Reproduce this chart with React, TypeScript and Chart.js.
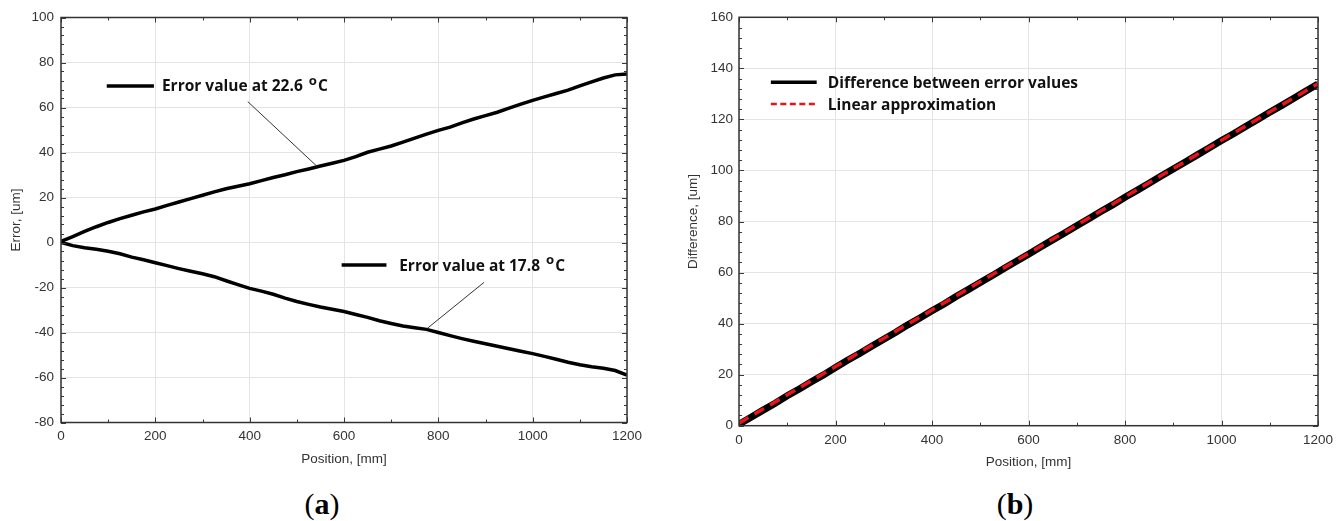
import React, { useEffect, useRef } from "react";
import { Chart, registerables } from "chart.js";

Chart.register(...registerables);

// ---------------- data ----------------
const positions = [
  0, 25, 50, 75, 100, 125, 150, 175, 200, 225, 250, 275, 300, 325, 350, 375, 400,
  425, 450, 475, 500, 525, 550, 575, 600, 625, 650, 675, 700, 725, 750, 775, 800,
  825, 850, 875, 900, 925, 950, 975, 1000, 1025, 1050, 1075, 1100, 1125, 1150, 1175, 1200,
];

const error226 = [
  0.5, 2.6, 4.9, 7.0, 8.9, 10.6, 12.1, 13.6, 14.9, 16.5, 18.0, 19.5, 21.0, 22.5, 23.9, 25.0, 26.1,
  27.5, 28.9, 30.1, 31.5, 32.7, 34.0, 35.2, 36.5, 38.2, 40.1, 41.5, 42.9, 44.6, 46.4, 48.2, 49.8,
  51.3, 53.2, 54.9, 56.4, 57.9, 59.7, 61.5, 63.2, 64.7, 66.2, 67.7, 69.6, 71.4, 73.1, 74.5, 74.9,
];

const error178 = [
  0.0, -1.4, -2.3, -3.0, -3.9, -5.0, -6.5, -7.7, -9.0, -10.3, -11.6, -12.8, -13.9, -15.2, -17.0, -18.7, -20.4,
  -21.6, -23.0, -24.7, -26.2, -27.5, -28.7, -29.7, -30.7, -32.0, -33.3, -34.8, -36.0, -37.1, -37.9, -38.6, -40.0,
  -41.4, -42.7, -43.9, -45.0, -46.1, -47.2, -48.3, -49.4, -50.6, -51.9, -53.2, -54.3, -55.2, -55.9, -56.9, -58.9,
];

const difference = [
  0.6, 3.3, 6.1, 8.8, 11.7, 14.4, 17.2, 19.9, 22.8, 25.6, 28.3, 31.1, 33.9, 36.6, 39.5, 42.2, 45.0,
  47.7, 50.6, 53.3, 56.1, 58.8, 61.7, 64.4, 67.2, 70.0, 72.8, 75.5, 78.3, 81.1, 83.9, 86.6, 89.5,
  92.2, 95.0, 97.8, 100.6, 103.3, 106.1, 108.9, 111.7, 114.4, 117.2, 120.0, 122.8, 125.5, 128.3, 131.1, 133.9,
];

const approxPositions = [0, 1200];
const approxValues = [1.0, 134.0];

const xTickValues = [0, 200, 400, 600, 800, 1000, 1200];
const leftYTickValues = [-80, -60, -40, -20, 0, 20, 40, 60, 80, 100];
const rightYTickValues = [0, 20, 40, 60, 80, 100, 120, 140, 160];

const label226 = "Error value at 22.6";
const label178 = "Error value at 17.8";
const labelDiff = "Difference between error values";
const labelApprox = "Linear approximation";
const xTitle = "Position, [mm]";
const leftYTitle = "Error, [um]";
const rightYTitle = "Difference, [um]";

// ---------------- helpers ----------------
const AX_FONT = '"Liberation Sans", Arial, sans-serif';
const NOTE_FONT = '"Open Sans", sans-serif';
const TXT = "#333333";
const GRID = "#e4e4e4";

const pts = (xs: number[], ys: number[]) => xs.map((x, i) => ({ x, y: ys[i] }));

function drawFrame(chart: any, yMinor: number) {
  const { ctx, chartArea: a, scales } = chart;
  const xs = scales.x;
  const ys = scales.y;
  ctx.save();
  ctx.strokeStyle = "#3a3a3a";
  ctx.lineWidth = 1;
  ctx.beginPath();
  for (let v = ys.min; v <= ys.max + 1e-6; v += yMinor) {
    const py = Math.round(ys.getPixelForValue(v)) + 0.5;
    const major = Math.abs(Math.round(v) % 20) === 0;
    const len = major ? 5 : 3;
    ctx.moveTo(a.left, py);
    ctx.lineTo(a.left + len, py);
    ctx.moveTo(a.right, py);
    ctx.lineTo(a.right - len, py);
  }
  for (let v = xs.min; v <= xs.max + 1e-6; v += 100) {
    const px = Math.round(xs.getPixelForValue(v)) + 0.5;
    const len = Math.round(v) % 200 === 0 ? 5 : 3;
    ctx.moveTo(px, a.top);
    ctx.lineTo(px, a.top + len);
    ctx.moveTo(px, a.bottom);
    ctx.lineTo(px, a.bottom - len);
  }
  ctx.stroke();
  ctx.lineWidth = 1.5;
  ctx.strokeStyle = "#333333";
  ctx.strokeRect(a.left, a.top, a.right - a.left, a.bottom - a.top);
  ctx.restore();
}

function drawDegreeText(ctx: any, text: string, x: number, yMid: number, size: number) {
  ctx.save();
  ctx.fillStyle = "#111111";
  ctx.textAlign = "left";
  ctx.textBaseline = "alphabetic";
  const base = yMid + size * 0.36;
  ctx.font = `bold ${size}px ${NOTE_FONT}`;
  const main = text + " ";
  ctx.fillText(main, x, base);
  let w = ctx.measureText(main).width + 2;
  ctx.font = `bold ${size * 0.85}px ${NOTE_FONT}`;
  ctx.fillText("o", x + w, base - size * 0.43);
  w += ctx.measureText("o").width + 1;
  ctx.font = `bold ${size}px ${NOTE_FONT}`;
  ctx.fillText("C", x + w, base);
  ctx.restore();
}

function drawPlainText(ctx: any, text: string, x: number, yMid: number, size: number) {
  ctx.save();
  ctx.fillStyle = "#111111";
  ctx.textAlign = "left";
  ctx.textBaseline = "alphabetic";
  ctx.font = `bold ${size}px ${NOTE_FONT}`;
  ctx.fillText(text, x, yMid + size * 0.36);
  ctx.restore();
}

function line(ctx: any, x1: number, y1: number, x2: number, y2: number, color: string, width: number, dash: number[] = []) {
  ctx.save();
  ctx.strokeStyle = color;
  ctx.lineWidth = width;
  ctx.setLineDash(dash);
  ctx.beginPath();
  ctx.moveTo(x1, y1);
  ctx.lineTo(x2, y2);
  ctx.stroke();
  ctx.restore();
}

const leftPlugin = {
  id: "leftDecor",
  afterDatasetsDraw(chart: any) {
    const { ctx, scales } = chart;
    const X = (v: number) => scales.x.getPixelForValue(v);
    const Y = (v: number) => scales.y.getPixelForValue(v);
    drawFrame(chart, 4);
    // annotation 22.6
    line(ctx, X(97), Y(69.6), X(197), Y(69.6), "#000", 3.5);
    drawDegreeText(ctx, label226, X(214), Y(69.6), 15.5);
    line(ctx, X(396), Y(62.6), X(542), Y(34), "#333", 1);
    // annotation 17.8
    line(ctx, X(595), Y(-10), X(690), Y(-10), "#000", 3.5);
    drawDegreeText(ctx, label178, X(717), Y(-10), 15.5);
    line(ctx, X(897), Y(-17.7), X(777), Y(-38.1), "#333", 1);
  },
};

const rightPlugin = {
  id: "rightDecor",
  afterDatasetsDraw(chart: any) {
    const { ctx, scales } = chart;
    const X = (v: number) => scales.x.getPixelForValue(v);
    const Y = (v: number) => scales.y.getPixelForValue(v);
    drawFrame(chart, 4);
    line(ctx, X(66), Y(134.6), X(161), Y(134.6), "#000", 3.5);
    drawPlainText(ctx, labelDiff, X(184), Y(134.6), 15.5);
    line(ctx, X(66), Y(126), X(161), Y(126), "#e8141b", 2.5, [6, 3.5]);
    drawPlainText(ctx, labelApprox, X(184), Y(126), 15.5);
  },
};

function makeScales(o: {
  yMin: number;
  yMax: number;
  yTicks: number[];
  yTitle: string;
  yWidth: number;
  yTitlePad: number;
  yTickPad: number;
}) {
  const tickFont = { family: AX_FONT, size: 13.5 };
  return {
    x: {
      type: "linear",
      min: 0,
      max: 1200,
      afterBuildTicks: (s: any) => {
        s.ticks = xTickValues.map((v) => ({ value: v }));
      },
      afterFit: (s: any) => {
        s.height = 48;
      },
      grid: { color: GRID, lineWidth: 1, drawTicks: false },
      border: { display: false },
      ticks: { padding: 6, color: TXT, font: tickFont, maxRotation: 0, callback: (v: any) => String(v) },
      title: {
        display: true,
        text: xTitle,
        color: TXT,
        font: { family: AX_FONT, size: 13.5 },
        padding: { top: 0, bottom: 3 },
      },
    },
    y: {
      type: "linear",
      min: o.yMin,
      max: o.yMax,
      afterBuildTicks: (s: any) => {
        s.ticks = o.yTicks.map((v) => ({ value: v }));
      },
      afterFit: (s: any) => {
        s.width = o.yWidth;
      },
      grid: { color: GRID, lineWidth: 1, drawTicks: false },
      border: { display: false },
      ticks: { padding: o.yTickPad, color: TXT, font: tickFont, callback: (v: any) => String(v) },
      title: {
        display: true,
        text: o.yTitle,
        color: TXT,
        font: { family: AX_FONT, size: 13.5 },
        padding: { top: o.yTitlePad, bottom: 0 },
      },
    },
  };
}

const leftConfig: any = {
  type: "line",
  data: {
    datasets: [
      {
        label: label226,
        data: pts(positions, error226),
        borderColor: "#000000",
        borderWidth: 3.5,
        pointRadius: 0,
        tension: 0,
      },
      {
        label: label178,
        data: pts(positions, error178),
        borderColor: "#000000",
        borderWidth: 3.5,
        pointRadius: 0,
        tension: 0,
      },
    ],
  },
  options: {
    responsive: false,
    animation: false,
    layout: { padding: { left: 0, right: 45, top: 17.5, bottom: 9.5 } },
    plugins: { legend: { display: false }, tooltip: { enabled: false } },
    scales: makeScales({
      yMin: -80,
      yMax: 100,
      yTicks: leftYTickValues,
      yTitle: leftYTitle,
      yWidth: 61,
      yTitlePad: 8,
      yTickPad: 7,
    }),
  },
  plugins: [leftPlugin],
};

const rightConfig: any = {
  type: "line",
  data: {
    datasets: [
      {
        label: labelApprox,
        data: pts(approxPositions, approxValues),
        borderColor: "#e8141b",
        borderWidth: 3.5,
        borderDash: [11, 7],
        pointRadius: 0,
        tension: 0,
        order: 1,
      },
      {
        label: labelDiff,
        data: pts(positions, difference),
        borderColor: "#000000",
        borderWidth: 7,
        pointRadius: 0,
        tension: 0,
        order: 2,
      },
    ],
  },
  options: {
    responsive: false,
    animation: false,
    layout: { padding: { left: 0, right: 26, top: 17.3, bottom: 6.3 } },
    plugins: { legend: { display: false }, tooltip: { enabled: false } },
    scales: makeScales({
      yMin: 0,
      yMax: 160,
      yTicks: rightYTickValues,
      yTitle: rightYTitle,
      yWidth: 67,
      yTitlePad: 13,
      yTickPad: 6,
    }),
  },
  plugins: [rightPlugin],
};

function ChartBox({ config, left }: { config: any; left: number }) {
  const ref = useRef<HTMLCanvasElement | null>(null);
  useEffect(() => {
    if (!ref.current) return;
    const chart = new Chart(ref.current, config);
    return () => chart.destroy();
  }, [config]);
  return (
    <div style={{ position: "absolute", left, top: 0, width: 672, height: 480 }}>
      <canvas ref={ref} width={672} height={480} style={{ display: "block" }} />
    </div>
  );
}

function Caption({ letter, center }: { letter: string; center: number }) {
  return (
    <div
      style={{
        position: "absolute",
        left: center - 50,
        top: 489,
        width: 100,
        textAlign: "center",
        fontFamily: '"Liberation Serif", "Times New Roman", serif',
        fontSize: 30,
        lineHeight: "30px",
        color: "#000",
      }}
    >
      (<b>{letter}</b>)
    </div>
  );
}

export default function App() {
  return (
    <div
      style={{
        position: "absolute",
        left: 0,
        top: 0,
        width: 1344,
        height: 521,
        background: "#ffffff",
        overflow: "hidden",
      }}
    >
      <ChartBox config={leftConfig} left={0} />
      <ChartBox config={rightConfig} left={672} />
      <Caption letter="a" center={322} />
      <Caption letter="b" center={1015} />
    </div>
  );
}
